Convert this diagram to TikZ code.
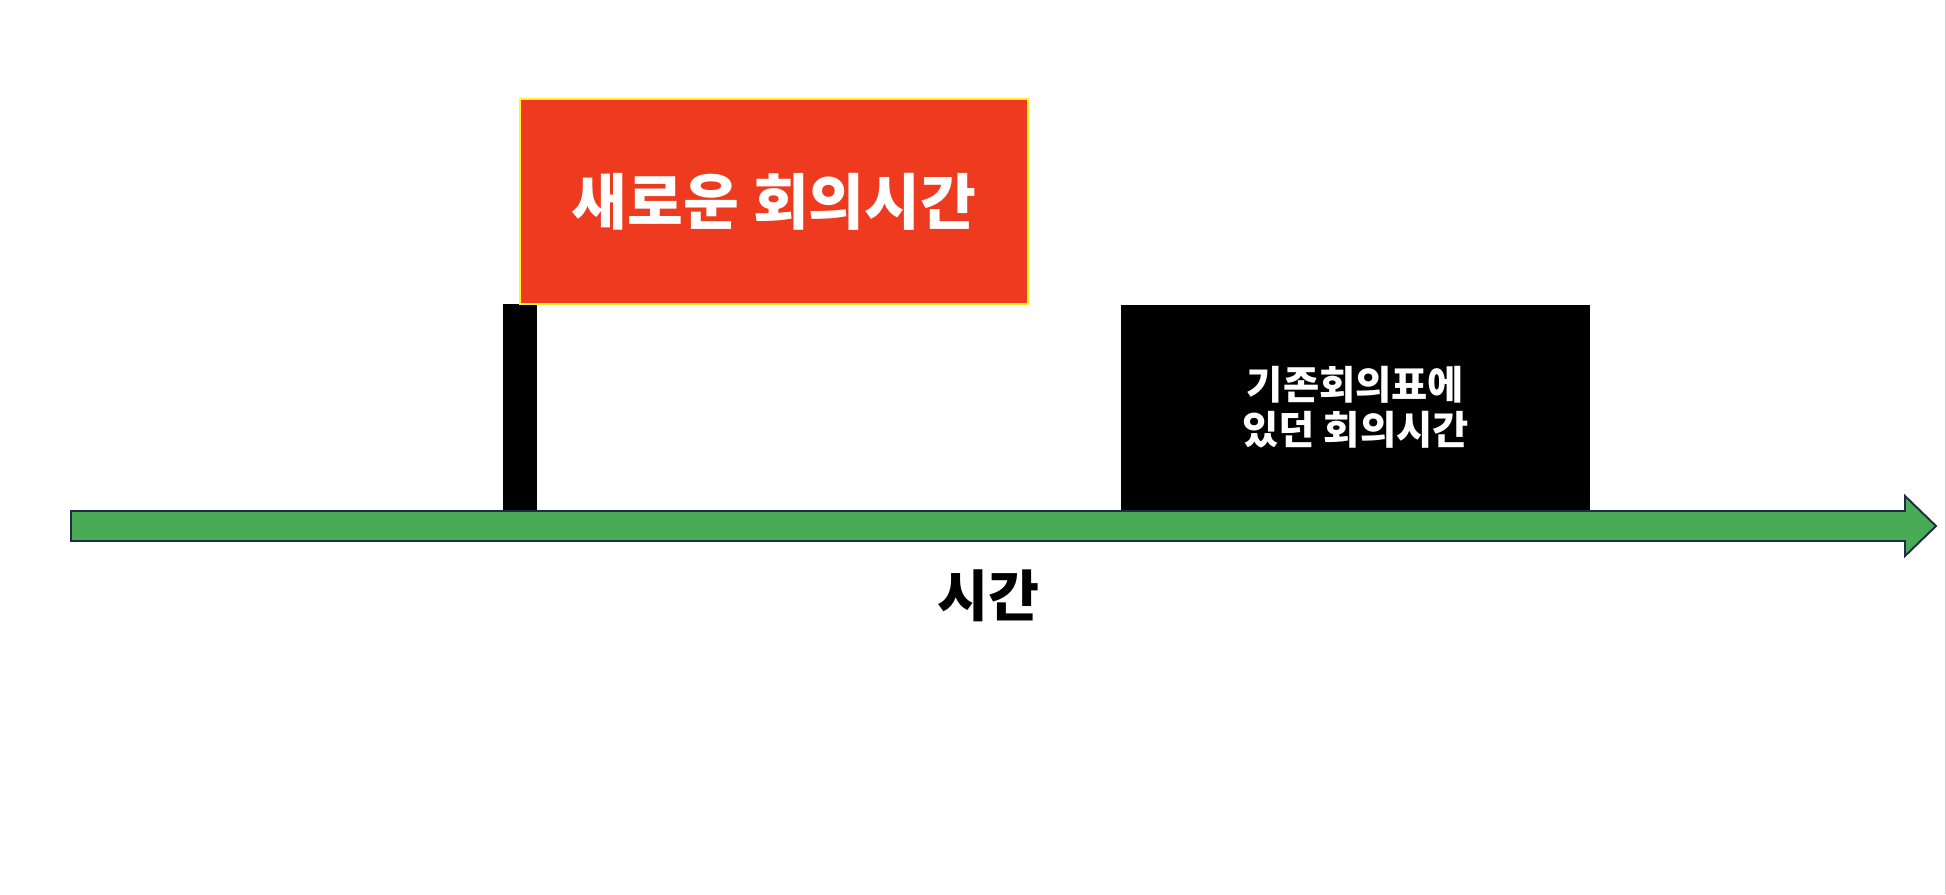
\documentclass[tikz,border=0pt]{standalone}
\usepackage{fontspec}
\newfontfamily\krfont{Noto Sans CJK KR}
\usepackage{tikz}
\usetikzlibrary{positioning}
\definecolor{meetred}{RGB}{238,58,31}
\definecolor{axisgreen}{RGB}{74,171,87}
\definecolor{navy}{RGB}{30,44,72}
\definecolor{hilite}{RGB}{255,245,40}

\begin{document}
\begin{tikzpicture}[x=0.02cm,y=-0.02cm,
  every node/.style={inner sep=0pt,text=white,font=\krfont\bfseries},
  slot/.style={fill=black,minimum height=4.1cm},
  big/.style={font=\krfont\bfseries\fontsize{34.5pt}{38pt}\selectfont}]
  \useasboundingbox (0,0) rectangle (1946,894);
  \draw[black!18] (1945,0) -- (1945,894);
  \node[slot,minimum width=0.68cm,minimum height=4.12cm] (bar) at (520,407) {};
  \node[big,draw=hilite,line width=1.1pt,fill=meetred,minimum width=10.16cm,minimum height=4.1cm] (new) at (774,201.5) {새로운 회의시간};
  \node[slot,minimum width=9.38cm,align=center,font=\krfont\bfseries\fontsize{22.4pt}{25.8pt}\selectfont] (old) at (1355.5,407.5) {기존회의표에\\있던 회의시간};
  % time axis
  \coordinate (tail) at (71,526);
  \coordinate (tip) at (1936,526);
  \draw[navy,line width=1.1pt,fill=axisgreen] (tail) |- (1905,511) -- (1905,496) -- (tip)
    -- (1905,556) -- (1905,541) -| (tail);
  \node[big,text=black,font=\krfont\bfseries\fontsize{31.5pt}{36pt}\selectfont] (lbl) at (988,596) {시간};
\end{tikzpicture}
\end{document}
